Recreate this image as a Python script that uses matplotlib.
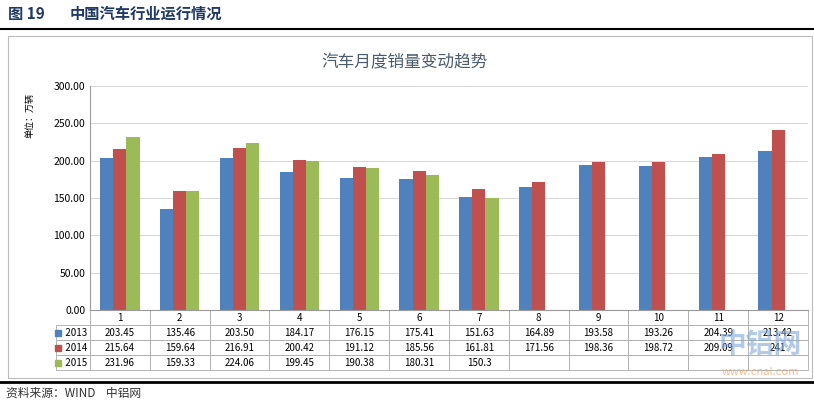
import matplotlib
matplotlib.use("Agg")
import matplotlib.pyplot as plt
import numpy as np
from matplotlib.patches import Rectangle

plt.rcParams['font.family'] = ['Noto Sans CJK SC', 'DejaVu Sans']

months = [str(i) for i in range(1, 13)]
years = ['2013', '2014', '2015']
v2013 = [203.45, 135.46, 203.50, 184.17, 176.15, 175.41, 151.63, 164.89, 193.58, 193.26, 204.39, 213.42]
v2014 = [215.64, 159.64, 216.91, 200.42, 191.12, 185.56, 161.81, 171.56, 198.36, 198.72, 209.09, 241]
v2015 = [231.96, 159.33, 224.06, 199.45, 190.38, 180.31, 150.3]
labels2013 = ['203.45','135.46','203.50','184.17','176.15','175.41','151.63','164.89','193.58','193.26','204.39','213.42']
labels2014 = ['215.64','159.64','216.91','200.42','191.12','185.56','161.81','171.56','198.36','198.72','209.09','241']
labels2015 = ['231.96','159.33','224.06','199.45','190.38','180.31','150.3','','','','','']
colors = ['#4F81BD', '#C0504D', '#9BBB59']

W, H = 814, 401
fig = plt.figure(figsize=(W/100, H/100), dpi=100)

def fx(px): return px / W
def fy(py): return 1 - py / H

fig.text(fx(8), fy(14), '图 19', fontsize=11, fontweight='bold', color='#1F3864', va='center')
fig.text(fx(70), fy(14), '中国汽车行业运行情况', fontsize=11, fontweight='bold', color='#1F3864', va='center')
fig.add_artist(plt.Line2D([fx(0), fx(814)], [fy(29), fy(29)], color='black', lw=1.5))
fig.add_artist(Rectangle((fx(8), fy(378)), fx(804), fy(36) - fy(378), fill=False, ec='#BBBBBB', lw=0.8))
fig.add_artist(plt.Line2D([fx(0), fx(814)], [fy(382), fy(382)], color='black', lw=2))
fig.text(fx(6), fy(393), '资料来源：WIND    中铝网', fontsize=8.5, style='italic', color='#333333', va='center')
fig.text(fx(405), fy(63), '汽车月度销量变动趋势', fontsize=12, color='#4A5B6C', ha='center', va='center')
fig.text(fx(30), fy(116), '单位：万辆', fontsize=6.5, rotation=90, ha='center', va='center')

ax = fig.add_axes([fx(90), fy(310), fx(808) - fx(90), fy(86) - fy(310)])
x = np.arange(12)
bw = 0.22
ax.bar(x - bw, v2013, bw, color=colors[0])
ax.bar(x, v2014, bw, color=colors[1])
ax.bar(np.arange(len(v2015)) + bw, v2015, bw, color=colors[2])
ax.set_xlim(-0.5, 11.5)
ax.set_ylim(0, 300)
ax.set_yticks(np.arange(0, 301, 50))
ax.set_yticklabels([f'{t:.2f}' for t in np.arange(0, 301, 50)], fontsize=7.5)
ax.set_xticks([])
ax.grid(axis='y', color='#D0D0D0', lw=0.6)
ax.set_axisbelow(True)
for s in ['top', 'right']:
    ax.spines[s].set_visible(False)
ax.spines['left'].set_color('#999999')
ax.spines['bottom'].set_color('#999999')
ax.tick_params(axis='y', length=0)

tb = ax.table(cellText=[labels2013, labels2014, labels2015],
              rowLabels=['   ' + y for y in years], colLabels=months,
              cellLoc='center', rowLoc='left', bbox=[0, -0.268, 1, 0.268])
tb.auto_set_font_size(False)
for (r, c), cell in tb.get_celld().items():
    cell.set_edgecolor('#AAAAAA')
    cell.set_linewidth(0.6)
    cell.get_text().set_fontsize(7)
    if c == -1:
        cell.set_width(38 / (808 - 90))
for i, y in enumerate(years):
    yy = 332.5 + 15 * i
    fig.add_artist(Rectangle((fx(55), fy(yy + 3)), fx(6), fy(yy - 3) - fy(yy + 3), color=colors[i]))

fig.text(fx(760), fy(345), '中铝网', fontsize=20, color='#7FA8D8', alpha=0.6, ha='center', va='center', fontweight='bold')
fig.text(fx(760), fy(372), 'www.cnal.com', fontsize=8, color='#F0A060', alpha=0.7, ha='center', va='center')

fig.savefig('out.png', dpi=100)
